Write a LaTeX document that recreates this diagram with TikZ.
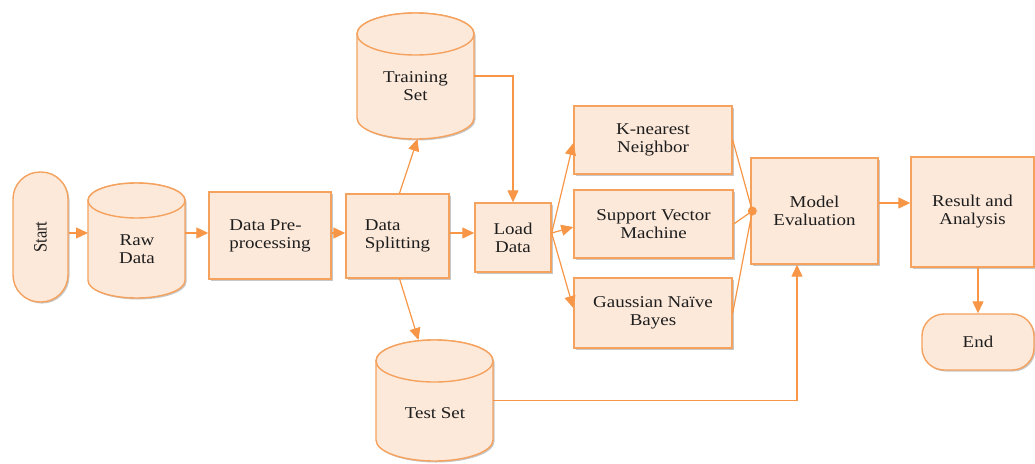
\documentclass[tikz,border=0pt]{standalone}
\usepackage{fontspec}
\setmainfont{Liberation Serif}[FakeStretch=1.15]
\newfontfamily\plainserif{Liberation Serif}
\usetikzlibrary{arrows.meta,shadows,calc}
\definecolor{boxfill}{RGB}{252,233,218}
\definecolor{boxline}{RGB}{245,162,95}
\definecolor{arrowc}{RGB}{246,150,70}
\definecolor{textc}{RGB}{30,30,30}
\newcommand{\drawcyl}[5]{%
  \filldraw[cylline,shade] (#1-#4,#2+#5) -- (#1-#4,#3-#5)
    arc[start angle=180,end angle=360,x radius=#4pt,y radius=#5pt]
    -- (#1+#4,#2+#5)
    arc[start angle=0,end angle=180,x radius=#4pt,y radius=#5pt] -- cycle;
  \draw[cylline] (#1,#2+#5) ellipse[x radius=#4pt,y radius=#5pt];
}
\begin{document}
\begin{tikzpicture}[x=1pt,y=-1pt,
  font=\fontsize{16.5}{18}\selectfont, text=textc,
  shade/.style={drop shadow={shadow xshift=1.5pt,shadow yshift=-1.5pt,opacity=0.22,fill=black}},
  box/.style={draw=boxline, fill=boxfill, line width=1.4pt, inner sep=2pt, shade},
  cylline/.style={draw=boxline, fill=boxfill, line width=1.4pt},
  cylnode/.style={inner sep=0pt, outer sep=0pt, draw=none},
  arr/.style={draw=arrowc, line width=1.2pt, -{Triangle[length=12pt,width=11pt]}},
  ln/.style={draw=arrowc, line width=1.2pt}]
\useasboundingbox (0,0) rectangle (1035,463);

% cylinders
\drawcyl{136.5}{183}{298}{48.5}{17.5}
\drawcyl{415.5}{13}{139}{58.5}{21}
\drawcyl{434.5}{340}{461}{58.5}{21}
\node[cylnode, minimum width=97pt, minimum height=115pt] (raw) at (136.5,240.5) {};
\node[cylnode, minimum width=117pt, minimum height=126pt] (train) at (415.5,76) {};
\node[cylnode, minimum width=117pt, minimum height=121pt] (test) at (434.5,400.5) {};
\node[align=center] (rawt) at (137,249) {Raw\\Data};
\node[align=center] (traint) at (415.5,86) {Training\\Set};
\node[align=center] (testt) at (435,413) {Test Set};

% boxes
\node[box, rounded corners=27pt, minimum width=55pt, minimum height=130pt] (start) at (40.5,237)
  {\rotatebox{90}{\scalebox{1}[1.15]{\plainserif Start}}};
\node[box, align=left, minimum width=122pt, minimum height=87pt] (pre) at (270,235.5) {Data Pre-\\processing};
\node[box, align=left, minimum width=103pt, minimum height=84pt] (split) at (397.5,236) {Data\\Splitting};
\node[box, align=center, minimum width=76pt, minimum height=69pt] (load) at (513,237.5) {Load\\Data};
\node[box, align=center, minimum width=158pt, minimum height=68pt] (knn) at (653,140) {K-nearest\\Neighbor};
\node[box, align=center, minimum width=159pt, minimum height=68pt] (svm) at (653.5,224) {Support Vector\\Machine};
\node[box, align=center, minimum width=158pt, minimum height=70pt] (gnb) at (653,313) {Gaussian Naïve\\Bayes};
\node[box, align=center, minimum width=127pt, minimum height=106pt] (eval) at (814.5,211) {Model\\Evaluation};
\node[box, align=center, minimum width=123pt, minimum height=110pt] (result) at (972.5,212) {Result and\\Analysis};
\node[box, rounded corners=22pt, minimum width=112pt, minimum height=56pt] (end) at (978,342) {End};

% connectors
\coordinate (mainy) at (0,233);
\coordinate (resy) at (0,203);
\coordinate (dot) at ([xshift=2pt]eval.west);
\draw[arr] (start.east |- mainy) -- (raw.west |- mainy);
\draw[arr] (raw.east |- mainy) -- (pre.west |- mainy);
\draw[arr] (pre.east |- mainy) -- (split.west |- mainy);
\draw[arr] (split.east |- mainy) -- (load.west |- mainy);
\draw[arr] ([xshift=2pt]split.north) -- ([xshift=2pt]train.south);
\draw[arr] ([xshift=2pt]split.south) -- ([xshift=-16pt]test.north);
\draw[arr] (train.east) -| (load.north);
\draw[arr] (load.east |- mainy) -- ([yshift=-3pt]knn.west);
\draw[arr] (load.east |- mainy) -- ([yshift=-3pt]svm.west);
\draw[arr] (load.east |- mainy) -- ([yshift=5pt]gnb.west);
\draw[ln] (knn.east) -- (dot);
\draw[ln] (svm.east) -- (dot);
\draw[ln] (gnb.east) -- (dot);
\fill[arrowc] (dot) circle[radius=4.5pt];
\draw[arr] (eval.east |- resy) -- (result.west |- resy);
\draw[arr] (result.south -| end.north) -- (end.north);
\draw[arr] (test.east) -| ([xshift=-17.5pt]eval.south);
\end{tikzpicture}
\end{document}
